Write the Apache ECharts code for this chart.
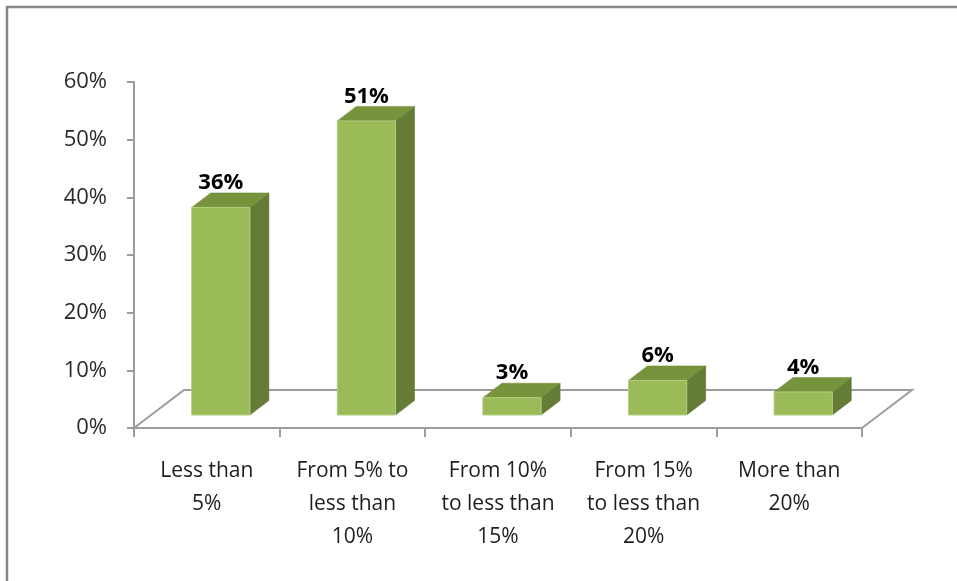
<!DOCTYPE html>
<html>
<head>
<meta charset="utf-8">
<script src="https://cdn.jsdelivr.net/npm/echarts@6/dist/echarts.min.js"></script>
<style>
  html, body { margin: 0; padding: 0; background: #ffffff; }
  #chart { width: 957px; height: 581px; }
</style>
</head>
<body>
<div id="chart"></div>
<script>
// Share of respondents by range
const categories = [
  'Less than\n5%',
  'From 5% to\nless than\n10%',
  'From 10%\nto less than\n15%',
  'From 15%\nto less than\n20%',
  'More than\n20%'
];
const shares = [36, 51, 3, 6, 4];
const yTicks = [0, 10, 20, 30, 40, 50, 60];

const FONT = '"Open Sans", Lato, sans-serif';
const AXIS_GRAY = '#9c9c9c';

// 3D look: floor depth and bar placement on it
const FLOOR_DX = 50, FLOOR_DY = -38;
const BAR_SHIFT_X = 14, BAR_SHIFT_Y = -13;
const BAR_DX = 19, BAR_DY = -14.5;
const BAR_RATIO = 0.4;

const chart = echarts.init(document.getElementById('chart'), null, { renderer: 'canvas' });

function renderFloor(params, api) {
  const p0 = api.coord([0, 0]);
  const band = api.size([1, 0])[0];
  const xl = p0[0] - band / 2;
  const xr = xl + band * categories.length;
  const y = p0[1];
  return {
    type: 'polyline',
    shape: {
      points: [
        [xl, y],
        [xl + FLOOR_DX, y + FLOOR_DY],
        [xr + FLOOR_DX, y + FLOOR_DY],
        [xr, y]
      ]
    },
    style: { stroke: AXIS_GRAY, lineWidth: 2, fill: null },
    silent: true
  };
}

function renderBar(params, api) {
  const i = api.value(0);
  const v = api.value(1);
  const base = api.coord([i, 0]);
  const top = api.coord([i, v]);
  const bw = api.size([1, 0])[0] * BAR_RATIO;
  const h = base[1] - top[1];
  const fx = base[0] - bw / 2 + BAR_SHIFT_X;
  const fy = base[1] + BAR_SHIFT_Y;
  const ty = fy - h;
  return {
    type: 'group',
    children: [
      {
        type: 'polygon',
        shape: { points: [[fx + bw, ty], [fx + bw, fy], [fx + bw + BAR_DX, fy + BAR_DY], [fx + bw + BAR_DX, ty + BAR_DY]] },
        style: { fill: '#657c37', stroke: '#5d7333', lineWidth: 0.5 }
      },
      {
        type: 'polygon',
        shape: { points: [[fx, ty], [fx + bw, ty], [fx + bw + BAR_DX, ty + BAR_DY], [fx + BAR_DX, ty + BAR_DY]] },
        style: { fill: '#77933c', stroke: '#6f8a38', lineWidth: 0.5 }
      },
      {
        type: 'rect',
        shape: { x: fx, y: ty, width: bw, height: h },
        style: { fill: '#9bbb59', stroke: '#b3cd82', lineWidth: 1 }
      },
      {
        type: 'text',
        style: {
          x: fx + bw / 2,
          y: ty + BAR_DY + 1,
          text: v + '%',
          fill: '#000000',
          font: 'bold 22px ' + FONT,
          align: 'center',
          verticalAlign: 'bottom'
        }
      }
    ]
  };
}

chart.setOption({
  animation: false,
  backgroundColor: '#ffffff',
  graphic: [
    {
      type: 'rect',
      shape: { x: 7, y: 7, width: 1100, height: 800 },
      style: { fill: null, stroke: '#878787', lineWidth: 2.5 },
      silent: true
    }
  ],
  grid: { left: 134, right: 95, top: 82, bottom: 153 },
  xAxis: {
    type: 'category',
    data: categories,
    boundaryGap: true,
    axisLine: { show: true, lineStyle: { color: AXIS_GRAY, width: 2 } },
    axisTick: { show: true, length: 9, lineStyle: { color: AXIS_GRAY, width: 2 } },
    axisLabel: {
      margin: 27,
      interval: 0,
      color: '#1e1e1e',
      fontFamily: FONT,
      fontSize: 21,
      lineHeight: 33,
      align: 'center'
    },
    splitLine: { show: false }
  },
  yAxis: {
    type: 'value',
    min: yTicks[0],
    max: yTicks[yTicks.length - 1],
    interval: 10,
    axisLine: { show: true, lineStyle: { color: AXIS_GRAY, width: 2 } },
    axisTick: { show: true, length: 7, lineStyle: { color: AXIS_GRAY, width: 2 } },
    axisLabel: {
      margin: 27,
      color: '#2a2a2a',
      fontFamily: FONT,
      fontSize: 22,
      formatter: '{value}%'
    },
    splitLine: { show: false }
  },
  series: [
    {
      type: 'custom',
      renderItem: renderFloor,
      data: [[0, 0]],
      z: 1,
      silent: true
    },
    {
      type: 'custom',
      renderItem: renderBar,
      data: shares.map((v, i) => [i, v]),
      z: 3,
      silent: true
    }
  ]
});
</script>
</body>
</html>
